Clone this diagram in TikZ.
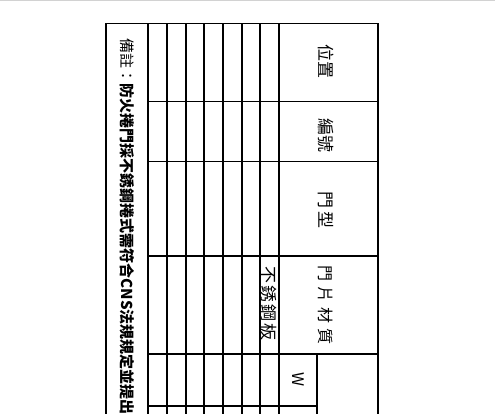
\documentclass[tikz,border=0pt]{standalone}
\usepackage{fontspec}
\newfontfamily\cjk{Noto Sans CJK TC}
\usepackage{tikz}
\usetikzlibrary{positioning}

\begin{document}
\begin{tikzpicture}[x=1pt,y=-1pt,line width=1.1pt,
    head/.style={rotate=-90,inner sep=0pt,font=\cjk\fontsize{17}{17}\selectfont},
    note/.style={rotate=-90,inner sep=0pt,anchor=west,font=\cjk\fontsize{15}{15}\selectfont}]
      \useasboundingbox (0,0) rectangle (495,414);
      \clip (0,0) rectangle (495,414);
      \draw[gray!35,line width=1.5pt] (0,0.5) -- (495,0.5);
      % outer frame
      \draw (106,414) |- (378,23.5) -- (378,414);
      \foreach \x in {148,167,186,204,223,242,260,279}
        \draw (\x,23.5) -- (\x,414);
      \foreach \y in {101.7,161.7,256,354}
        \draw (148,\y) -- (378,\y);
      \draw (317,354) -- (317,414);
      \draw (148,406) -- (317,406);
      % texts
      \node[note] (remark) at (127,38) {備註：\bfseries 防火捲門採不銹鋼捲式需符合CNS法規規定並提出檢};
      \node[head] (posHead) at (326,62) {位置};
      \node[head] (numHead) at (326,136) {編號};
      \node[head] (typeHead) at (326,210) {門\hspace{3pt}型};
      \node[head,font=\cjk\fontsize{16}{16}\selectfont] (matHead) at (326,305) {門\hspace{5pt}片\hspace{5pt}材\hspace{5pt}質};
      \node[head,anchor=west] (matSteel) at (269,266) {不\hspace{2pt}銹\hspace{2pt}鋼\hspace{2pt}板};
      \node[head,font=\cjk\fontsize{16}{16}\selectfont] (widthW) at (298,380) {W};
    \end{tikzpicture}
\end{document}
